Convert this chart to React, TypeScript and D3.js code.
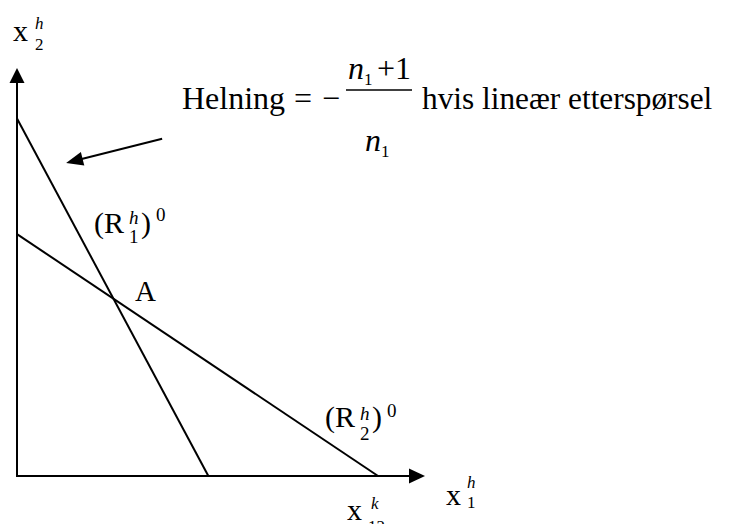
import React from "react";
import * as d3 from "d3";

// Data (abstract units)
const axisMax = { x: 113, y: 113 };
const r1Line: [number, number][] = [[0, 99], [53, 0]];
const r2Line: [number, number][] = [[0, 67], [100, 0]];
const pointA = { label: "A" };
const annotationArrow: [number, number][] = [[40.2, 93.4], [13.6, 86.7]];
const slopeText = { word: "Helning", eq: "=", minus: "−", num: "+1", after: "hvis lineær etterspørsel" };

const W = 730;
const H = 524;
const FONT = "'Liberation Serif', 'Times New Roman', serif";

export default function App() {
  const x = d3.scaleLinear().domain([0, axisMax.x]).range([17, 425]);
  const y = d3.scaleLinear().domain([0, axisMax.y]).range([476, 68]);
  const line = d3.line<[number, number]>().x(d => x(d[0])).y(d => y(d[1]));

  const x0 = x(0), y0 = y(0);
  const xt = x(axisMax.x), yt = y(axisMax.y);

  const a0 = annotationArrow[0], a1 = annotationArrow[1];
  const ax0 = x(a0[0]), ay0 = y(a0[1]), ax1 = x(a1[0]), ay1 = y(a1[1]);
  const ang = Math.atan2(ay1 - ay0, ax1 - ax0);
  const hl = 17, hw = 7;
  const bx = ax1 - hl * Math.cos(ang), by = ay1 - hl * Math.sin(ang);
  const px = -Math.sin(ang), py = Math.cos(ang);
  const headPts = `${ax1},${ay1} ${bx + hw * px},${by + hw * py} ${bx - hw * px},${by - hw * py}`;

  const sw = 2;
  const F = 30; // main font size
  const S = 19; // sub/sup font size
  return (
    <svg width={W} height={H} style={{ position: "absolute", left: 0, top: 0, background: "#fff" }} fontFamily={FONT}>
      <rect width={W} height={H} fill="#fff" />
      {/* axes */}
      <line x1={x0} y1={y0} x2={x0} y2={yt + 14} stroke="#000" strokeWidth={sw} />
      <polygon points={`${x0},${yt} ${x0 - 7.5},${yt + 15} ${x0 + 7.5},${yt + 15}`} fill="#000" />
      <line x1={x0 - 1} y1={y0} x2={xt - 14} y2={y0} stroke="#000" strokeWidth={sw} />
      <polygon points={`${xt},${y0} ${xt - 16},${y0 - 7.5} ${xt - 16},${y0 + 7.5}`} fill="#000" />
      {/* reaction lines */}
      <path d={line(r1Line) || ""} stroke="#000" strokeWidth={sw} fill="none" />
      <path d={line(r2Line) || ""} stroke="#000" strokeWidth={sw} fill="none" />
      {/* annotation arrow */}
      <line x1={ax0} y1={ay0} x2={bx + 2 * Math.cos(ang)} y2={by + 2 * Math.sin(ang)} stroke="#000" strokeWidth={sw} />
      <polygon points={headPts} fill="#000" />

      {/* y axis label x2^h */}
      <text x={13} y={41} fontSize={F}>x</text>
      <text x={35} y={29} fontSize={17} fontStyle="italic">h</text>
      <text x={35} y={50} fontSize={17}>2</text>

      {/* x axis label x1^h */}
      <text x={446} y={505} fontSize={F}>x</text>
      <text x={467} y={488} fontSize={17} fontStyle="italic">h</text>
      <text x={467} y={508} fontSize={17}>1</text>

      {/* x12^k */}
      <text x={347} y={520} fontSize={F}>x</text>
      <text x={371} y={509} fontSize={17} fontStyle="italic">k</text>
      <text x={368} y={532} fontSize={17}>12</text>

      {/* A */}
      <text x={135} y={301} fontSize={29}>{pointA.label}</text>

      {/* (R1^h)^0 */}
      <text x={94} y={233} fontSize={F}>(R</text>
      <text x={129} y={224} fontSize={S} fontStyle="italic">h</text>
      <text x={129} y={243} fontSize={S}>1</text>
      <text x={141} y={233} fontSize={F}>)</text>
      <text x={156} y={221} fontSize={S}>0</text>

      {/* (R2^h)^0 */}
      <text x={325} y={427} fontSize={F}>(R</text>
      <text x={360} y={420} fontSize={S} fontStyle="italic">h</text>
      <text x={360} y={440} fontSize={S}>2</text>
      <text x={372} y={427} fontSize={F}>)</text>
      <text x={387} y={417} fontSize={S}>0</text>

      {/* Helning annotation */}
      <text x={182} y={109} fontSize={32}>{slopeText.word}</text>
      <text x={294} y={109} fontSize={32}>{slopeText.eq}</text>
      <text x={322} y={109} fontSize={32}>{slopeText.minus}</text>
      <text x={348} y={79} fontSize={32} fontStyle="italic">n</text>
      <text x={364} y={85} fontSize={17}>1</text>
      <text x={377} y={79} fontSize={32}>{slopeText.num}</text>
      <line x1={346} y1={90} x2={412} y2={90} stroke="#000" strokeWidth={1.3} />
      <text x={365} y={151} fontSize={32} fontStyle="italic">n</text>
      <text x={381} y={157} fontSize={17}>1</text>
      <text x={422} y={109} fontSize={31.3}>{slopeText.after}</text>
    </svg>
  );
}
